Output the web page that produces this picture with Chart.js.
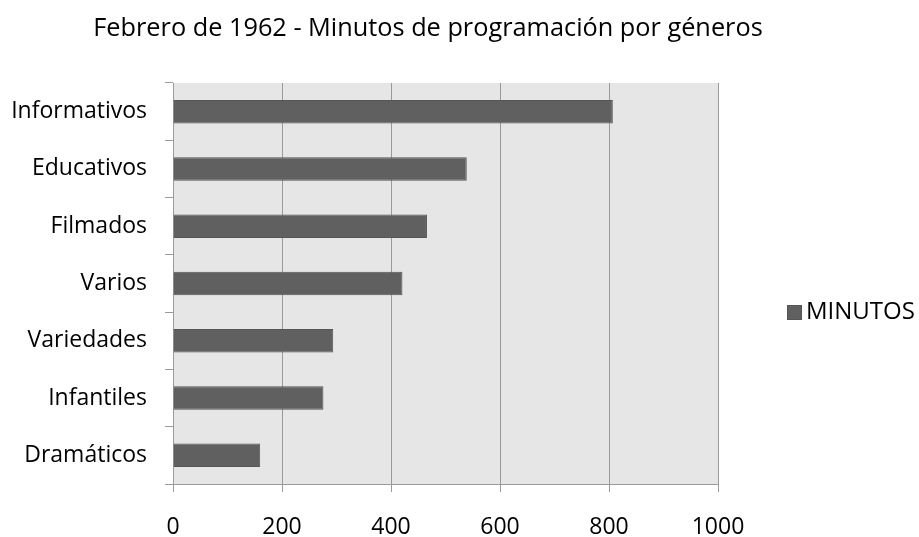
<!DOCTYPE html>
<html>
<head>
<meta charset="utf-8">
<script src="https://cdn.jsdelivr.net/npm/chart.js@4"></script>
<style>
  html, body { margin: 0; padding: 0; background: #ffffff; }
  #wrap { width: 919px; height: 537px; position: relative; }
</style>
</head>
<body>
<div id="wrap"><canvas id="c" width="919" height="537"></canvas></div>
<script>
const titleText = "Febrero de 1962 - Minutos de programación por géneros";
const categories = ["Informativos", "Educativos", "Filmados", "Varios", "Variedades", "Infantiles", "Dramáticos"];
const minutos = [807, 539, 466, 421, 294, 276, 160];
const seriesName = "MINUTOS";
const xTicks = [0, 200, 400, 600, 800, 1000];

const FONT = "'Open Sans', sans-serif";
const BAR = "#606060";
const GRID = "#9a9a9a";

const bgPlugin = {
  id: 'plotBg',
  beforeDraw(chart) {
    const a = chart.chartArea, ctx = chart.ctx;
    ctx.save();
    ctx.fillStyle = "#e6e6e6";
    ctx.fillRect(a.left, a.top, a.right - a.left, a.bottom - a.top);
    ctx.restore();
  }
};

const textPlugin = {
  id: 'titleLegend',
  afterDraw(chart) {
    const ctx = chart.ctx;
    ctx.save();
    ctx.fillStyle = "#000000";
    ctx.font = "25.3px " + FONT;
    ctx.textAlign = "center";
    ctx.textBaseline = "alphabetic";
    ctx.fillText(titleText, 428, 36);
    // legend
    const ds = chart.data.datasets[0];
    ctx.fillStyle = BAR;
    ctx.strokeStyle = "#555555";
    ctx.lineWidth = 1;
    ctx.fillRect(787, 305, 15, 15);
    ctx.strokeRect(787.5, 305.5, 14, 14);
    ctx.fillStyle = "#000000";
    ctx.font = "24px " + FONT;
    ctx.textAlign = "left";
    ctx.textBaseline = "middle";
    ctx.fillText(ds.label, 806, 312);
    ctx.restore();
  }
};

new Chart(document.getElementById('c'), {
  type: 'bar',
  data: {
    labels: categories,
    datasets: [{
      label: seriesName,
      data: minutos,
      backgroundColor: BAR,
      borderColor: "#555555",
      borderWidth: 1,
      categoryPercentage: 1.0,
      barPercentage: 0.41
    }]
  },
  options: {
    indexAxis: 'y',
    responsive: false,
    animation: false,
    devicePixelRatio: 1,
    layout: { padding: { top: 83, right: 201, left: 0, bottom: 0 } },
    plugins: {
      legend: { display: false },
      title: { display: false },
      tooltip: { enabled: false }
    },
    scales: {
      x: {
        min: 0, max: 1000,
        afterBuildTicks(scale) { scale.ticks = xTicks.map(v => ({ value: v })); },
        afterFit(scale) { scale.height = 53; },
        grid: { color: GRID, lineWidth: 1, tickLength: 8, drawTicks: true },
        border: { color: GRID, width: 1 },
        ticks: { color: "#000000", font: { family: FONT, size: 23 }, padding: 22, maxRotation: 0,
                 callback: (v) => String(v) }
      },
      y: {
        afterFit(scale) { scale.width = 173; },
        grid: { color: GRID, lineWidth: 1, tickLength: 8, drawOnChartArea: false, offset: true },
        border: { color: GRID, width: 1 },
        ticks: { color: "#000000", font: { family: FONT, size: 23 }, padding: 18 }
      }
    }
  },
  plugins: [bgPlugin, textPlugin]
});
</script>
</body>
</html>
